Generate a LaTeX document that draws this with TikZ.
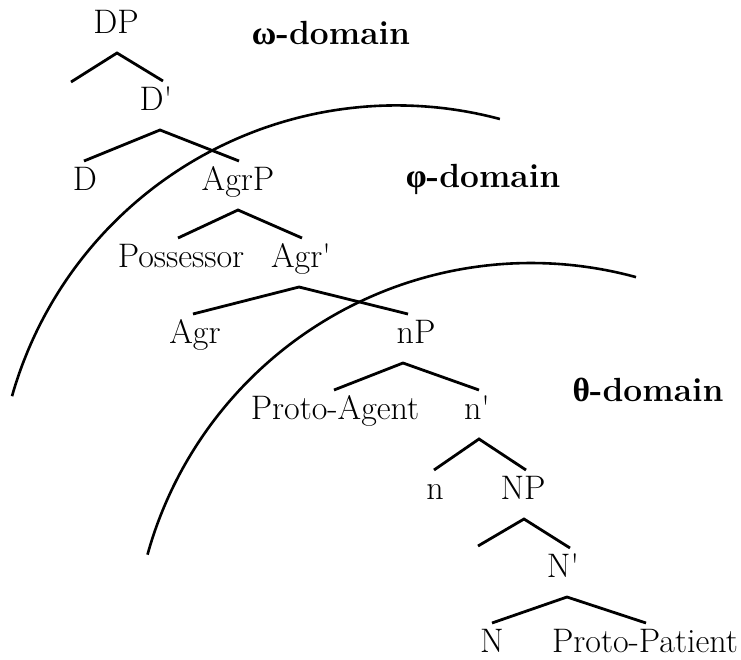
\documentclass[tikz,border=0pt]{standalone}
\usepackage{fontspec}
\newfontfamily\grk{Liberation Serif}
\begin{document}
\begin{tikzpicture}[x=1pt,y=-1pt,
  lab/.style={font=\fontsize{34}{40}\selectfont, anchor=base, inner sep=0pt, outer sep=0pt, text height=29pt, text depth=20pt},
  dom/.style={font=\fontsize{33.5}{40}\selectfont\bfseries, anchor=base, inner sep=0pt},
  br/.style={line width=2.8pt},
  arcline/.style={line width=2.6pt}]
\useasboundingbox (0,0) rectangle (741,659);
% tree labels
\node[lab] (DP) at (116,33) {DP};
\node[lab] (Dbar) at (156,110) {D\textquotesingle};
\node[lab] (D) at (85,190) {D};
\node[lab] (AgrP) at (238,190) {AgrP};
\node[lab] (Poss) at (181,267) {Possessor};
\node[lab] (Agrbar) at (301,267) {Agr\textquotesingle};
\node[lab] (Agr) at (195,343) {Agr};
\node[lab] (nP) at (416,343) {nP};
\node[lab] (PA) at (335,419) {Proto-Agent};
\node[lab] (nbar) at (477,419) {n\textquotesingle};
\node[lab] (n) at (435,499) {n};
\node[lab] (NP) at (523,499) {NP};
\node[lab] (Nbar) at (563,577) {N\textquotesingle};
\node[lab] (N) at (492,652) {N};
\node[lab] (PP) at (645,652) {Proto-Patient};
\coordinate (DPspec) at (71,82);
\coordinate (NPspec) at (478,546);
% domain labels
\node[dom] (omega) at (331,44) {{\grk\bfseries ω}-domain};
\node[dom] (phi) at (483,187) {{\grk\bfseries φ}-domain};
\node[dom] (theta) at (648,401) {{\grk\bfseries θ}-domain};
% branches
\draw[br] (DPspec) -- ([xshift=1pt]DP.south) -- ([xshift=7pt]Dbar.north);
\draw[br] ([xshift=-1pt]D.north) -- ([xshift=4pt]Dbar.south) -- ([xshift=1pt]AgrP.north);
\draw[br] ([xshift=-3pt]Poss.north) -- (AgrP.south) -- ([xshift=1pt]Agrbar.north);
\draw[br] ([xshift=-2pt]Agr.north) -- ([xshift=-2pt]Agrbar.south) -- ([xshift=-8pt]nP.north);
\draw[br] ([xshift=-1pt]PA.north) -- ([xshift=-13pt]nP.south) -- ([xshift=2pt]nbar.north);
\draw[br] ([xshift=-1pt]n.north) -- ([xshift=2pt]nbar.south) -- ([xshift=3pt]NP.north);
\draw[br] (NPspec) -- ([xshift=1pt]NP.south) -- ([xshift=7pt]Nbar.north);
\draw[br] (N.north) -- ([xshift=4pt]Nbar.south) -- ([xshift=1pt]PP.north);
% domain arcs
\draw[arcline] plot[domain=164.2:75, samples=80, smooth] ({396.5+399.6*cos(\x)}, {505-399.6*sin(\x)});
\draw[arcline] plot[domain=164.5:74.7, samples=80, smooth] ({531+398*cos(\x)}, {661-398*sin(\x)});
\end{tikzpicture}
\end{document}
